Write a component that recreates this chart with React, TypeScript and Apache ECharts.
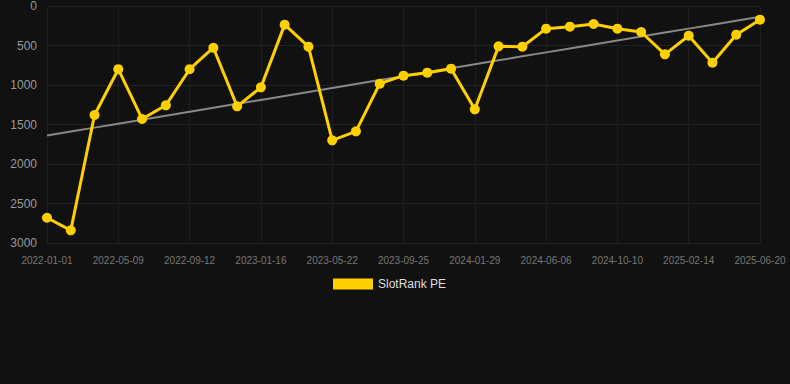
import React, { useEffect, useRef } from "react";
import * as echarts from "echarts";

const categories: string[] = [
  "2022-01-01", "2022-02-12", "2022-03-26", "2022-05-09", "2022-06-20", "2022-08-01",
  "2022-09-12", "2022-10-24", "2022-12-05", "2023-01-16", "2023-02-27", "2023-04-10",
  "2023-05-22", "2023-07-03", "2023-08-14", "2023-09-25", "2023-11-06", "2023-12-18",
  "2024-01-29", "2024-03-12", "2024-04-24", "2024-06-06", "2024-07-18", "2024-08-29",
  "2024-10-10", "2024-11-21", "2025-01-03", "2025-02-14", "2025-03-28", "2025-05-09",
  "2025-06-20",
];

const rankValues: number[] = [
  2680, 2840, 1380, 800, 1430, 1257, 800, 528, 1270, 1030,
  236, 515, 1700, 1587, 983, 882, 844, 793, 1308, 511,
  515, 287, 262, 228, 287, 329, 612, 376, 718, 363,
  173,
];

const yTicks = { min: 0, max: 3000, interval: 500 };

function trend(values: number[]): number[] {
  const n = values.length;
  let sx = 0, sy = 0, sxx = 0, sxy = 0;
  values.forEach((v, i) => { sx += i; sy += v; sxx += i * i; sxy += i * v; });
  const slope = (n * sxy - sx * sy) / (n * sxx - sx * sx);
  const intercept = (sy - slope * sx) / n;
  return values.map((_, i) => intercept + slope * i);
}

export default function App() {
  const ref = useRef<HTMLDivElement>(null);
  useEffect(() => {
    document.body.style.margin = "0";
    document.body.style.background = "#111111";
    if (!ref.current) return;
    const chart = echarts.init(ref.current, undefined, { renderer: "svg" });
    chart.setOption({
      animation: false,
      backgroundColor: "#111111",
      grid: { left: 47, right: 30, top: 6, bottom: 141 },
      legend: {
        bottom: 89,
        left: 328,
        data: ["SlotRank PE"],
        icon: "rect",
        itemWidth: 40,
        itemHeight: 11,
        itemGap: 8,
        textStyle: { color: "#dddddd", fontSize: 12, fontFamily: "Liberation Sans, Arial, sans-serif" },
      },
      xAxis: {
        type: "category",
        data: categories,
        boundaryGap: false,
        axisLine: { show: false },
        axisTick: { show: false },
        axisLabel: {
          interval: 2,
          color: "#777777",
          fontSize: 10,
          margin: 12,
          fontFamily: "Liberation Sans, Arial, sans-serif",
        },
        splitLine: { show: true, interval: 2, lineStyle: { color: "#1e1e1e", width: 1 } },
      },
      yAxis: {
        type: "value",
        inverse: true,
        min: yTicks.min,
        max: yTicks.max,
        interval: yTicks.interval,
        axisLine: { show: false },
        axisTick: { show: false },
        axisLabel: {
          color: "#999999",
          fontSize: 12,
          margin: 10,
          fontFamily: "Liberation Sans, Arial, sans-serif",
          formatter: (v: number) => String(v),
        },
        splitLine: { lineStyle: { color: "#222222", width: 1 } },
      },
      series: [
        {
          name: "SlotRank PE",
          type: "line",
          data: rankValues,
          color: "#FFD000",
          lineStyle: { color: "#FFD000", width: 3 },
          itemStyle: { color: "#FFD000" },
          symbol: "circle",
          symbolSize: 10,
          z: 3,
        },
        {
          name: "Trend",
          type: "line",
          data: trend(rankValues),
          symbol: "none",
          lineStyle: { color: "#888888", width: 2 },
          itemStyle: { color: "#888888" },
          z: 2,
          silent: true,
        },
      ],
    });
    return () => chart.dispose();
  }, []);
  return <div ref={ref} style={{ width: 790, height: 384 }} />;
}
